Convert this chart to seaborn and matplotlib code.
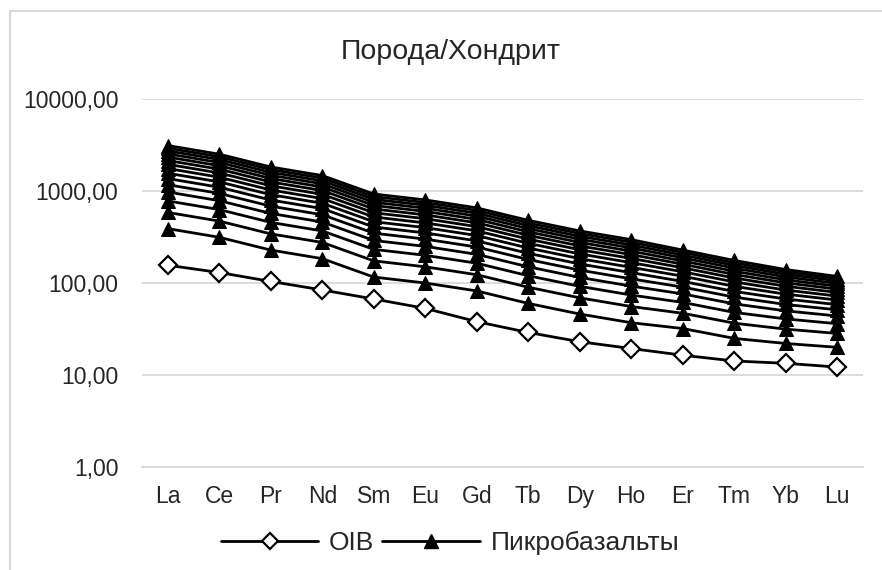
import matplotlib
matplotlib.use("Agg")
import pandas as pd
import matplotlib.pyplot as plt
import matplotlib.ticker as mticker
from matplotlib.lines import Line2D
import seaborn as sns

# REE spectra normalised to chondrite
elements = ["La", "Ce", "Pr", "Nd", "Sm", "Eu", "Gd",
            "Tb", "Dy", "Ho", "Er", "Tm", "Yb", "Lu"]

oib = [156, 130, 104, 84, 67, 53, 38, 29, 23, 19.4, 16.4, 14.2, 13.4, 12.2]

# picrobasalt curves, bottom to top
picro_lines = [
    [390, 314, 228, 184, 116, 100, 82, 60, 46, 37, 32, 25, 22, 20],
    [585, 471, 342, 276, 174, 150, 123, 90, 69, 55.5, 46.9, 36.6, 31.5, 28.3],
    [780, 628, 456, 368, 232, 200, 164, 120, 92, 74, 61.5, 47.9, 40.7, 36.1],
    [975, 785, 570, 460, 290, 250, 205, 150, 115, 92.5, 76.1, 59.3, 49.8, 43.8],
    [1170, 942, 684, 552, 348, 300, 246, 180, 138, 111, 90.2, 70.3, 58.4, 51.1],
    [1365, 1099, 798, 644, 406, 350, 287, 210, 161, 129.5, 104, 81, 67, 58.2],
    [1560, 1256, 912, 736, 464, 400, 328, 240, 184, 148, 118.6, 92, 75.6, 65.3],
    [1755, 1413, 1026, 828, 522, 450, 369, 270, 207, 166.5, 132.4, 102.8, 83.8, 72.1],
    [1950, 1570, 1140, 920, 580, 500, 410, 300, 230, 185, 146.3, 113.3, 92.2, 79],
    [2145, 1727, 1254, 1012, 638, 550, 451, 330, 253, 203.5, 160, 123.8, 100.3, 85.8],
    [2340, 1884, 1368, 1104, 696, 600, 492, 360, 276, 222, 173.5, 134.3, 108.2, 92.2],
    [2535, 2041, 1482, 1196, 754, 650, 533, 390, 299, 240.5, 187.5, 145, 116.4, 98.8],
    [2730, 2198, 1596, 1288, 812, 700, 574, 420, 322, 259, 201, 155.3, 124.3, 105.4],
    [2925, 2355, 1710, 1380, 870, 750, 615, 450, 345, 277.5, 214.7, 165.5, 132.2, 111.6],
    [3120, 2512, 1824, 1472, 928, 800, 656, 480, 368, 296, 228, 176, 140, 118],
]

y_ticks = [1, 10, 100, 1000, 10000]

sns.set_theme(style="white")
plt.rcParams["font.family"] = ["Liberation Sans", "DejaVu Sans"]
TEXT = "#262626"
GRID = "#d9d9d9"

oib_df = pd.DataFrame({"element": elements, "value": oib})
picro_df = pd.DataFrame(
    [{"element": el, "value": v, "line": i}
     for i, row in enumerate(picro_lines)
     for el, v in zip(elements, row)]
)

fig = plt.figure(figsize=(8.82, 5.70), dpi=100)
ax = fig.add_axes([142 / 882, 1 - 467 / 570, 721 / 882, 368 / 570])

sns.lineplot(data=oib_df, x="element", y="value", ax=ax, sort=False,
             color="black", linewidth=2.0, marker="D", markersize=9,
             markerfacecolor="white", markeredgecolor="black",
             markeredgewidth=1.6, legend=False)
sns.lineplot(data=picro_df, x="element", y="value", units="line",
             estimator=None, ax=ax, sort=False, color="black",
             linewidth=2.0, marker="^", markersize=9.5,
             markeredgecolor="black", legend=False)

ax.set_yscale("log")
ax.set_ylim(1, 10000)
ax.set_xlim(-0.5, len(elements) - 0.5)
ax.yaxis.set_major_locator(mticker.FixedLocator(y_ticks))
ax.yaxis.set_minor_locator(mticker.NullLocator())
ax.yaxis.set_major_formatter(
    mticker.FuncFormatter(lambda v, _: f"{v:.2f}".replace(".", ",")))
ax.set_xticks(range(len(elements)))
ax.set_xticklabels(elements)
ax.set_xlabel("")
ax.set_ylabel("")

ax.grid(axis="y", color=GRID, linewidth=1.3)
ax.grid(axis="x", visible=False)
for side in ["left", "right", "top"]:
    ax.spines[side].set_visible(False)
ax.spines["bottom"].set_color(GRID)
ax.spines["bottom"].set_linewidth(1.3)
ax.tick_params(axis="y", length=0, pad=17, labelsize=16.5, labelcolor=TEXT)
ax.tick_params(axis="x", length=0, pad=13, labelsize=16.5, labelcolor=TEXT)

fig.text(451 / 882, 1 - 52 / 570, "Порода/Хондрит", ha="center",
         va="center", fontsize=20.5, color=TEXT)

handles = [
    Line2D([], [], color="black", linewidth=2.0, marker="D", markersize=8,
           markerfacecolor="white", markeredgewidth=1.6),
    Line2D([], [], color="black", linewidth=2.0, marker="^", markersize=10),
]
fig.legend(handles, ["OIB", "Пикробазальты"], loc="center",
           bbox_to_anchor=(450 / 882, 1 - 543 / 570), ncol=2, frameon=False,
           handlelength=3.7, handletextpad=0.4, columnspacing=0.3,
           fontsize=19, labelcolor=TEXT)

# chart border (only its left and top edges fall inside the picture)
fig.add_artist(Line2D([10 / 882, 10 / 882], [0, 1 - 11 / 570],
                      transform=fig.transFigure, color=GRID, linewidth=1.5))
fig.add_artist(Line2D([10 / 882, 1], [1 - 11 / 570, 1 - 11 / 570],
                      transform=fig.transFigure, color=GRID, linewidth=1.5))

fig.savefig("out.png", dpi=100, facecolor="white")
